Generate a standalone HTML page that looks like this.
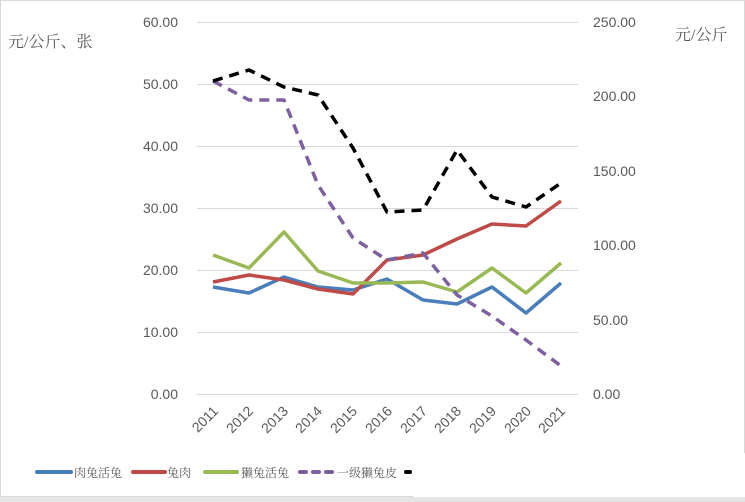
<!DOCTYPE html>
<html><head><meta charset="utf-8"><style>
body{margin:0;background:#fff;}
svg{display:block;font-family:"Liberation Sans","Noto Sans CJK SC",sans-serif;}
</style></head><body>
<svg width="745" height="502" viewBox="0 0 745 502">
<rect x="0.5" y="0.5" width="744" height="496" fill="#fff" stroke="#d9d9d9"/>
<rect x="0" y="497" width="745" height="5" fill="#e6e6e6"/>
<g stroke="#d9d9d9" stroke-width="1">
<line x1="197" x2="578" y1="22.5" y2="22.5"/>
<line x1="197" x2="578" y1="84.5" y2="84.5"/>
<line x1="197" x2="578" y1="146.5" y2="146.5"/>
<line x1="197" x2="578" y1="208.5" y2="208.5"/>
<line x1="197" x2="578" y1="270.5" y2="270.5"/>
<line x1="197" x2="578" y1="332.5" y2="332.5"/>
<line x1="197" x2="578" y1="394.5" y2="394.5"/>
</g>
<g fill="#595959" font-size="14" text-anchor="end">
<text x="178" y="27">60.00</text><text x="178" y="89">50.00</text><text x="178" y="151">40.00</text>
<text x="178" y="213">30.00</text><text x="178" y="275">20.00</text><text x="178" y="337">10.00</text><text x="178" y="399">0.00</text>
</g>
<g fill="#595959" font-size="14" text-anchor="start">
<text x="593" y="27">250.00</text><text x="593" y="101">200.00</text><text x="593" y="176">150.00</text>
<text x="593" y="250">100.00</text><text x="593" y="325">50.00</text><text x="593" y="399">0.00</text>
</g>
<text x="8" y="47" font-size="16" fill="#595959" font-family="'Liberation Serif','Noto Serif CJK SC',serif">元/公斤、张</text>
<text x="675" y="40" font-size="16" fill="#595959" font-family="'Liberation Serif','Noto Serif CJK SC',serif">元/公斤</text>
<g fill="#595959" font-size="14">
<text transform="translate(219,412) rotate(-45)" text-anchor="end">2011</text>
<text transform="translate(254,412) rotate(-45)" text-anchor="end">2012</text>
<text transform="translate(289,412) rotate(-45)" text-anchor="end">2013</text>
<text transform="translate(323,412) rotate(-45)" text-anchor="end">2014</text>
<text transform="translate(358,412) rotate(-45)" text-anchor="end">2015</text>
<text transform="translate(393,412) rotate(-45)" text-anchor="end">2016</text>
<text transform="translate(428,412) rotate(-45)" text-anchor="end">2017</text>
<text transform="translate(462,412) rotate(-45)" text-anchor="end">2018</text>
<text transform="translate(497,412) rotate(-45)" text-anchor="end">2019</text>
<text transform="translate(532,412) rotate(-45)" text-anchor="end">2020</text>
<text transform="translate(566,412) rotate(-45)" text-anchor="end">2021</text>
</g>
<g fill="none" stroke-width="3.5" stroke-linejoin="round">
<polyline stroke="#4a7ebb" points="213,287 249,293 284,277 318,287 353,290 387,279 423,300 457,304 492,287 526,313 561,283"/>
<polyline stroke="#be4b48" points="213,282 249,275 284,280 318,289 353,294 387,260 423,255 457,239 492,224 526,226 561,201"/>
<polyline stroke="#98b954" points="213,255 249,268 284,232 318,271 353,283 387,283 423,282 457,292 492,268 526,293 561,263"/>
<polyline stroke="#7d60a0" stroke-dasharray="10,7" points="213,81 249,100 284,100 318,185 353,238 387,260 423,253 457,295 492,316 526,340 561,366"/>
<polyline stroke="#000" stroke-dasharray="10,7" points="213,81 249,70 284,87 318,95 353,148 387,212 423,210 457,150 492,197 526,207 561,183"/>
</g>
<g stroke-width="4" stroke-linecap="round">
<line x1="37" x2="71" y1="472" y2="472" stroke="#4a7ebb"/>
<line x1="133" x2="165" y1="472" y2="472" stroke="#be4b48"/>
<line x1="205" x2="237" y1="472" y2="472" stroke="#98b954"/>
<line x1="300" x2="332" y1="472" y2="472" stroke="#7d60a0" stroke-dasharray="6,7"/>
<line x1="406" x2="410" y1="472" y2="472" stroke="#000"/>
</g>
<g fill="#595959" font-size="12" font-family="'Liberation Serif','Noto Serif CJK SC',serif">
<text x="74" y="477">肉兔活兔</text>
<text x="167" y="477">兔肉</text>
<text x="241" y="477">獭兔活兔</text>
<text x="337" y="477">一级獭兔皮</text>
</g>
<rect x="413" y="453" width="332" height="44" fill="#fff"/>
</svg>
</body></html>
